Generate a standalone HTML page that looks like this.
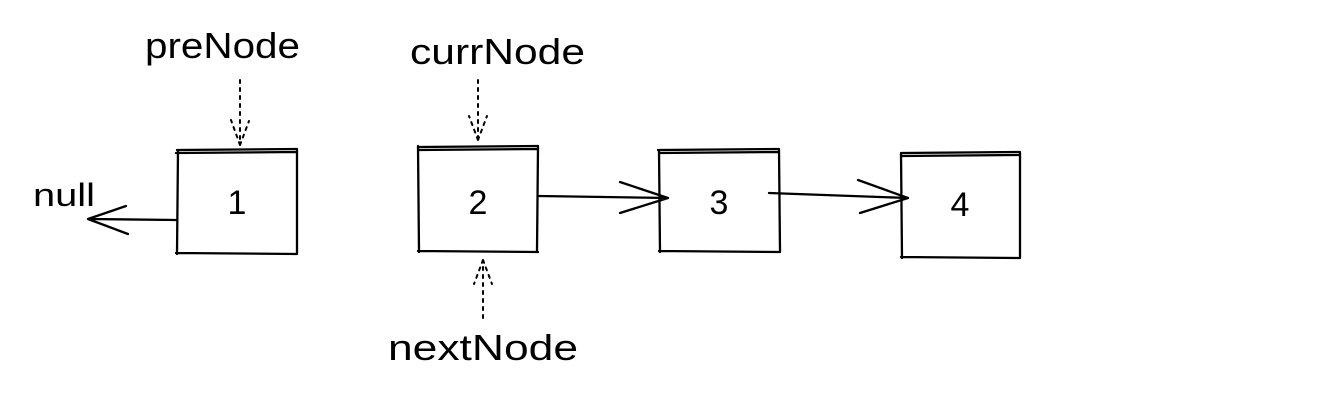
<!DOCTYPE html>
<html><head><meta charset="utf-8"><style>
html,body{margin:0;padding:0;background:#fff;}
svg{display:block}
text{font-family:"Liberation Sans","DejaVu Sans",sans-serif;fill:#000;}
</style></head><body>
<svg width="1322" height="414" viewBox="0 0 1322 414">
<g stroke="#000" stroke-width="2.3" fill="none" stroke-linecap="round">
  <g>
    <path d="M177 150 L297 149 M176 153 L296 152 M178 150 L177 254 M297 150 L297 254 M176 253 L297 254"/>
  </g>
  <g>
    <path d="M418 147 L538 146 M419 150 L537 149 M418 146 L419 252 M538 147 L537 251 M418 251 L538 252"/>
  </g>
  <g>
    <path d="M658 150 L779 149 M659 153 L778 152 M659 150 L660 252 M779 150 L780 251 M659 251 L780 252"/>
  </g>
  <g>
    <path d="M901 153 L1020 152 M902 156 L1019 155 M901 153 L902 258 M1020 153 L1020 257 M901 257 L1020 258"/>
  </g>
  <g>
    <path d="M176 220 L88 219 M88 219 L126 206 M88 219 L128 234"/>
  </g>
  <g>
    <path d="M539 196 L668 198 M668 198 L620 182 M668 198 L620 213"/>
  </g>
  <g>
    <path d="M769 193 L908 198 M908 198 L858 180 M908 198 L860 213"/>
  </g>
</g>
<g stroke="#000" stroke-width="2" fill="none" stroke-dasharray="3,5" stroke-linecap="round">
  <path d="M240 80 L240 145 M240 145 L231 120 M240 145 L249 121"/>
  <path d="M478 80 L478 140 M478 140 L469 116 M478 140 L487 116"/>
  <path d="M483 318 L483 260 M483 260 L474 284 M483 260 L492 284"/>
</g>
<text x="145" y="58" font-size="36" textLength="155" lengthAdjust="spacingAndGlyphs">preNode</text>
<text x="410" y="64" font-size="36" textLength="175" lengthAdjust="spacingAndGlyphs">currNode</text>
<text x="388" y="360" font-size="36" textLength="190" lengthAdjust="spacingAndGlyphs">nextNode</text>
<text x="33" y="206" font-size="32" textLength="62" lengthAdjust="spacingAndGlyphs">null</text>
<text x="237" y="214" font-size="34" text-anchor="middle">1</text>
<text x="478" y="214" font-size="34" text-anchor="middle">2</text>
<text x="719" y="214" font-size="34" text-anchor="middle">3</text>
<text x="960" y="216" font-size="34" text-anchor="middle">4</text>
</svg>
</body></html>
